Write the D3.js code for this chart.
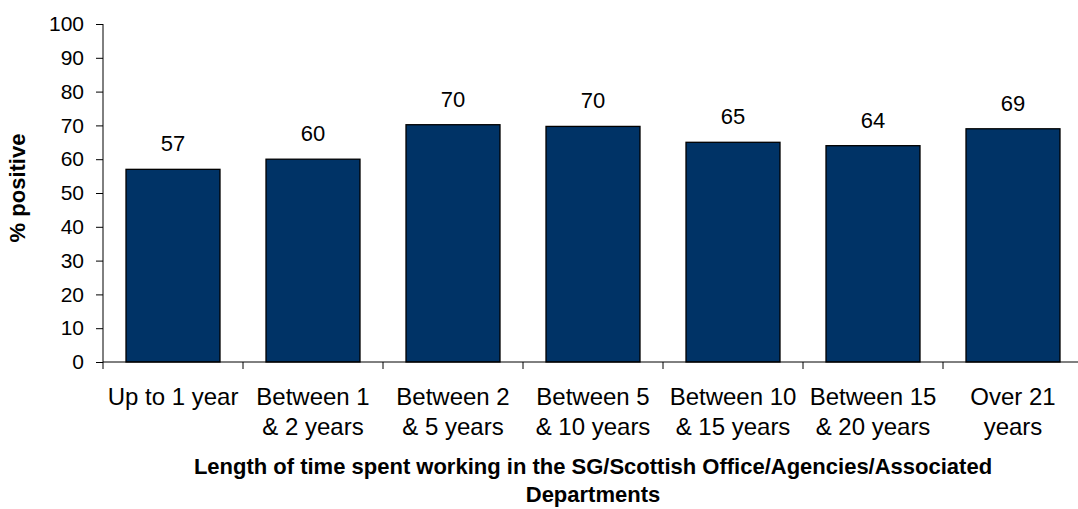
<!DOCTYPE html>
<html>
<head>
<meta charset="utf-8">
<script src="https://cdn.jsdelivr.net/npm/d3@7/dist/d3.min.js"></script>
<style>
  html, body { margin: 0; padding: 0; background: #fff; }
  svg { display: block; font-family: "Liberation Sans", Arial, sans-serif; }
</style>
</head>
<body>
<svg id="chart" width="1078" height="509"></svg>
<script>
// Share of staff answering positively, by length of service
const categories = [
  "Up to 1 year",
  "Between 1\n& 2 years",
  "Between 2\n& 5 years",
  "Between 5\n& 10 years",
  "Between 10\n& 15 years",
  "Between 15\n& 20 years",
  "Over 21\nyears"
];
const values = [57, 60, 70.2, 69.7, 65, 64, 69];
const yTicks = [0, 10, 20, 30, 40, 50, 60, 70, 80, 90, 100];
const yTitle = "% positive";
const xTitleLines = [
  "Length of time spent working in the SG/Scottish Office/Agencies/Associated",
  "Departments"
];

const svg = d3.select("#chart");
const plotLeft = 103, plotRight = 1083, plotTop = 24, plotBottom = 362;

const x = d3.scaleBand()
  .domain(categories)
  .range([plotLeft, plotRight])
  .paddingInner(46 / 140)
  .paddingOuter(23 / 140);

const y = d3.scaleLinear().domain([0, 100]).range([plotBottom, plotTop]);

// Bars
svg.append("g").selectAll("rect")
  .data(values)
  .join("rect")
  .attr("x", (d, i) => x(categories[i]))
  .attr("y", d => y(d))
  .attr("width", x.bandwidth())
  .attr("height", d => y(0) - y(d))
  .attr("fill", "#003366")
  .attr("stroke", "#000")
  .attr("stroke-width", 1.3);

// Value labels
svg.append("g").selectAll("text")
  .data(values)
  .join("text")
  .attr("x", (d, i) => x(categories[i]) + x.bandwidth() / 2)
  .attr("y", d => y(d) - 18)
  .attr("text-anchor", "middle")
  .attr("font-size", 22)
  .attr("fill", "#000")
  .text(d => d3.format(".0f")(d));

// Y axis
const yAxis = svg.append("g")
  .attr("transform", `translate(${plotLeft},0)`)
  .call(d3.axisLeft(y).tickValues(yTicks).tickSize(7).tickPadding(12).tickFormat(d3.format("d")));
yAxis.selectAll("text").attr("font-size", 21).attr("fill", "#000").attr("font-family", "Liberation Sans, Arial, sans-serif");
yAxis.selectAll("line, path").attr("stroke", "#000");
yAxis.select("path").attr("d", `M0,${plotTop}V${plotBottom}`);

// X axis line and category boundary ticks
const step = x.step();
const gap = step - x.bandwidth();
const bounds = categories.map(c => x(c) - gap / 2).concat([x(categories[categories.length - 1]) + x.bandwidth() + gap / 2]);
const xAxis = svg.append("g");
xAxis.append("line")
  .attr("x1", plotLeft).attr("x2", plotRight)
  .attr("y1", y(0)).attr("y2", y(0))
  .attr("stroke", "#000");
xAxis.selectAll("line.tick")
  .data(bounds)
  .join("line")
  .attr("class", "tick")
  .attr("x1", d => d).attr("x2", d => d)
  .attr("y1", y(0)).attr("y2", y(0) + 7)
  .attr("stroke", "#000");

// Category labels
const catText = svg.append("g").selectAll("text")
  .data(categories)
  .join("text")
  .attr("text-anchor", "middle")
  .attr("font-size", 24)
  .attr("fill", "#000")
  .attr("transform", d => `translate(${x(d) + x.bandwidth() / 2},405)`);
catText.selectAll("tspan")
  .data(d => d.split("\n"))
  .join("tspan")
  .attr("x", 0)
  .attr("y", (d, i) => i * 30)
  .text(d => d);

// Axis titles
svg.append("text")
  .attr("transform", `translate(25,188) rotate(-90)`)
  .attr("text-anchor", "middle")
  .attr("font-size", 22)
  .attr("font-weight", "bold")
  .attr("fill", "#000")
  .text(yTitle);

svg.append("g").selectAll("text")
  .data(xTitleLines)
  .join("text")
  .attr("x", (plotLeft + plotRight) / 2)
  .attr("y", (d, i) => 474 + i * 28)
  .attr("text-anchor", "middle")
  .attr("font-size", 22)
  .attr("font-weight", "bold")
  .attr("fill", "#000")
  .text(d => d);
</script>
</body>
</html>
